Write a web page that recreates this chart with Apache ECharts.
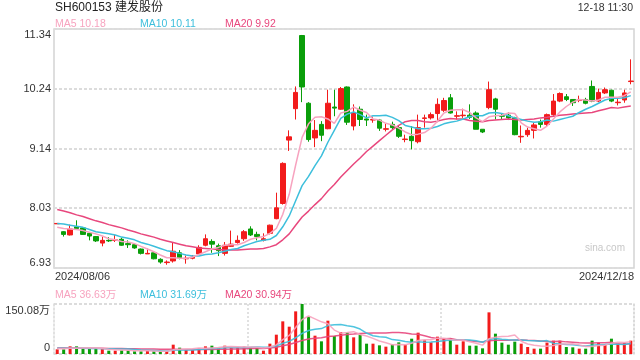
<!DOCTYPE html>
<html><head><meta charset="utf-8">
<script src="https://cdn.jsdelivr.net/npm/echarts@6/dist/echarts.min.js"></script>
<style>html,body{margin:0;padding:0;background:#fff}#c{width:640px;height:360px}</style>
</head><body><div id="c"></div>
<script>
const title = 'SH600153 建发股份';
const timeText = '12-18 11:30';
const dates = ['08/06','08/07','08/08','08/09','08/12','08/13','08/14','08/15','08/16','08/19','08/20','08/21','08/22','08/23','08/26','08/27','08/28','08/29','08/30',
'09/02','09/03','09/04','09/05','09/06','09/09','09/10','09/11','09/12','09/13','09/18','09/19','09/20','09/23','09/24','09/25','09/26','09/27','09/30',
'10/08','10/09','10/10','10/11','10/14','10/15','10/16','10/17','10/18','10/21','10/22','10/23','10/24','10/25','10/28','10/29','10/30','10/31',
'11/01','11/04','11/05','11/06','11/07','11/08','11/11','11/12','11/13','11/14','11/15','11/18','11/19','11/20','11/21','11/22','11/25','11/26','11/27','11/28','11/29',
'12/02','12/03','12/04','12/05','12/06','12/09','12/10','12/11','12/12','12/13','12/16','12/17','12/18'];
const opens = [7.745,7.60,7.54,7.69,7.67,7.57,7.51,7.39,7.44,7.44,7.46,7.38,7.36,7.28,7.19,7.21,7.09,7.03,7.06,7.21,
7.10,7.11,7.19,7.35,7.42,7.34,7.20,7.33,7.40,7.47,7.65,7.55,7.44,7.57,7.84,8.12,9.29,9.87,11.22,9.97,
9.33,9.58,9.50,9.90,9.86,10.27,9.55,9.86,9.68,9.66,9.66,9.49,9.58,9.52,9.30,9.36,9.26,9.69,9.70,9.78,
9.84,10.07,9.73,9.74,9.75,9.79,9.49,9.89,10.05,9.74,9.75,9.70,9.35,9.39,9.47,9.63,9.58,9.76,10.01,10.09,
10.04,10.02,10.04,10.28,10.01,10.16,10.21,9.98,10.03,10.37];
const closes = [7.752,7.55,7.65,7.66,7.55,7.52,7.43,7.44,7.43,7.45,7.35,7.36,7.30,7.20,7.20,7.10,7.04,7.04,7.24,7.12,
7.11,7.13,7.31,7.47,7.37,7.25,7.35,7.37,7.44,7.60,7.54,7.51,7.47,7.72,8.04,8.86,9.35,10.17,10.27,9.30,
9.47,9.38,9.97,9.88,10.24,9.62,9.79,9.67,9.66,9.67,9.51,9.50,9.52,9.36,9.31,9.28,9.52,9.70,9.76,9.95,
10.02,9.79,9.74,9.75,9.71,9.49,9.44,10.22,9.86,9.73,9.70,9.39,9.36,9.47,9.57,9.58,9.76,10.01,10.15,10.04,
9.98,10.03,9.97,10.01,10.17,10.22,10.01,9.99,10.16,10.38];
const lows = [7.745,7.51,7.53,7.66,7.54,7.44,7.41,7.33,7.41,7.41,7.34,7.30,7.285,7.18,7.19,7.09,7.01,6.99,7.03,7.09,
7.01,7.09,7.18,7.33,7.21,7.15,7.16,7.32,7.38,7.43,7.52,7.44,7.42,7.55,7.83,8.10,9.09,9.67,9.99,9.26,
9.16,9.27,9.49,9.73,9.85,9.57,9.47,9.55,9.55,9.61,9.46,9.45,9.49,9.33,9.25,9.12,9.23,9.52,9.67,9.62,
9.81,9.78,9.67,9.70,9.68,9.49,9.42,9.86,9.67,9.67,9.66,9.38,9.24,9.35,9.32,9.52,9.55,9.74,9.99,10.01,
9.92,9.99,9.95,9.99,9.99,10.14,9.99,9.93,9.98,10.32];
const highs = [7.755,7.61,7.73,7.81,7.68,7.59,7.52,7.51,7.50,7.54,7.49,7.44,7.37,7.29,7.29,7.24,7.11,7.07,7.40,7.26,
7.16,7.17,7.35,7.55,7.46,7.38,7.41,7.62,7.53,7.63,7.70,7.60,7.57,7.73,8.32,8.88,9.47,10.28,11.23,9.99,
9.66,9.64,10.22,10.22,10.27,10.28,9.95,9.91,9.76,9.72,9.68,9.59,9.63,9.55,9.39,9.55,9.76,9.76,9.80,10.06,
10.07,10.14,9.82,9.87,9.95,9.82,9.49,10.37,10.07,9.79,9.80,9.72,9.56,9.52,9.61,9.67,9.78,10.14,10.17,10.14,
10.04,10.11,10.07,10.39,10.24,10.26,10.22,10.05,10.22,10.78];
const ma5 = [7.68,7.66,7.65,7.64,7.62,7.59,7.56,7.52,7.47,7.45,7.42,7.41,7.38,7.33,7.28,7.23,7.17,7.12,7.12,7.11,
7.11,7.13,7.18,7.23,7.28,7.31,7.35,7.36,7.36,7.40,7.46,7.49,7.51,7.57,7.66,7.92,8.29,8.83,9.34,9.59,
9.71,9.72,9.68,9.60,9.79,9.82,9.90,9.84,9.80,9.68,9.66,9.60,9.57,9.51,9.44,9.39,9.40,9.43,9.51,9.64,
9.79,9.84,9.85,9.85,9.80,9.70,9.63,9.72,9.74,9.75,9.79,9.78,9.61,9.53,9.50,9.47,9.55,9.68,9.81,9.91,
9.99,10.04,10.03,10.01,10.03,10.08,10.08,10.08,10.11,10.18];
const ma10 = [7.75,7.74,7.72,7.70,7.68,7.64,7.60,7.58,7.56,7.54,7.50,7.48,7.45,7.40,7.37,7.33,7.29,7.25,7.23,7.20,
7.17,7.15,7.15,7.18,7.19,7.21,7.24,7.27,7.29,7.34,7.38,7.42,7.44,7.46,7.53,7.69,7.89,8.17,8.45,8.62,
8.82,9.00,9.25,9.47,9.69,9.77,9.81,9.76,9.70,9.74,9.74,9.75,9.71,9.65,9.56,9.53,9.50,9.50,9.51,9.54,
9.59,9.62,9.64,9.68,9.72,9.74,9.74,9.79,9.80,9.78,9.74,9.70,9.67,9.64,9.62,9.63,9.66,9.64,9.67,9.70,
9.73,9.80,9.86,9.91,9.97,10.03,10.06,10.06,10.07,10.11];
const ma20 = [8.01,7.98,7.95,7.91,7.88,7.84,7.80,7.77,7.73,7.70,7.67,7.63,7.60,7.56,7.53,7.50,7.46,7.43,7.40,7.37,
7.34,7.32,7.30,7.29,7.28,7.27,7.26,7.26,7.26,7.27,7.28,7.28,7.29,7.32,7.36,7.45,7.56,7.72,7.87,7.98,
8.10,8.21,8.35,8.47,8.61,8.73,8.85,8.96,9.08,9.18,9.28,9.38,9.48,9.56,9.63,9.65,9.65,9.63,9.62,9.64,
9.67,9.69,9.68,9.68,9.65,9.64,9.63,9.65,9.66,9.67,9.68,9.67,9.66,9.67,9.68,9.70,9.71,9.73,9.75,9.76,
9.77,9.78,9.79,9.80,9.83,9.86,9.89,9.88,9.90,9.92];
const volumes = [14,14,23,23,15,15,15,15,10,10,11,11,8,8,10,8,8,8,28,19,
13,12,18,23,25,18,25,20,20,22,19,19,10,31,58,98,82,128,150.08,112,
55,38,100,54,66,65,50,58,31,31,26,22,29,35,28,46,64,41,35,52,
45,46,28,38,25,25,17,125,61,34,28,37,31,21,16,16,34,40,40,21,
20,16,16,40,34,27,46,31,34,40];
const vma5 = [16,16,17,17,17.8,18,18.2,16.6,14,13,12.2,11.4,10,9.6,9.6,9,8.4,8.4,12.4,14.2,
15.2,16,18,17,18.2,19.2,21.8,22.2,21.6,21,21.2,20,18,20.2,27.4,43.2,55.8,79.4,103.2,114,
105.4,96.6,91,71.8,62.6,64.6,67,58.6,54,47,39.2,33.6,27.8,28.6,28,32,40.4,42.8,42.8,47.6,
47.4,43.8,41.2,41.8,36.4,32.4,26.6,46,50.6,52.4,53,57,38.2,30.2,26.6,24.2,23.6,25.4,29.2,30.2,
31,27.4,22.6,22.6,25.2,26.6,32.6,35.6,34.4,36.63];
const vma10 = [17,17,17,17,17,16.5,16.5,16,16,15.4,15.1,14.8,13.3,11.8,11.3,10.6,9.9,9.2,11,11.9,
12.1,12.2,13.2,14.7,16.2,17.2,18.9,20.1,19.3,19.6,20.2,20.9,20.1,20.9,24.2,32.2,37.9,48.7,61.7,70.7,
74.3,76.2,85.2,87.5,88.3,85,81.8,74.8,62.9,54.8,51.9,50.3,43.2,41.3,37.5,35.6,37,35.3,35.7,37.8,
39.7,42.1,42,42.3,42,39.9,35.2,43.6,46.2,44.4,42.7,41.8,42.1,40.4,39.5,38.6,40.3,31.8,29.7,28.4,
27.6,25.5,24,25.9,27.7,28.8,30,29.1,28.5,31.69];
const vma20 = [18,18,18,17.8,17.6,17.4,17.2,17,16.8,16.5,16.2,15.9,15.6,15.3,15,14.7,14.3,14,13.9,13.65,
13.6,13.5,13.25,13.25,13.75,13.9,14.4,14.65,15.15,15.75,16.15,16.55,16.65,17.8,20.2,24.7,28.4,34.4,40.5,45.15,
47.25,48.55,52.65,54.2,56.25,58.6,59.85,61.75,62.3,62.75,63.1,63.25,64.2,64.4,62.9,60.3,59.4,55.05,49.3,46.3,
45.8,46.2,42.6,41.8,39.75,37.75,36.1,39.45,40.95,41.1,41.2,41.95,42.05,41.35,40.75,39.25,37.75,37.7,37.95,36.4,
35.15,33.65,33.05,33.15,33.6,33.7,35.15,30.45,29.1,30.94];
const yTicks = ['6.93','8.03','9.14','10.24','11.34'];
const volTicks = ['0','150.08万'];

const cats = dates.map(d => '2024/' + d);
const RED = '#f21b1b', GREEN = '#0a9e0a';
const C5 = '#f7a3bf', C10 = '#3dbfdc', C20 = '#e8477d';
const FONT = '"Liberation Sans", Arial, "Noto Sans CJK SC", sans-serif';
const yMin = parseFloat(yTicks[0]), yMax = parseFloat(yTicks[yTicks.length-1]);
const yStep = (yMax - yMin) / (yTicks.length - 1);
const vMax = parseFloat(volTicks[1]);
const dotted = {color:'#dcdcdc', width:2, type:[3,2]};
const last = a => a[a.length-1];

const chart = echarts.init(document.getElementById('c'), null, {renderer:'canvas'});
const txt = (text, color, size) => ({text, fill:color, font: size + 'px ' + FONT});
chart.setOption({
  animation:false,
  backgroundColor:'#fff',
  textStyle:{fontFamily:FONT},
  grid:[
    {left:54, right:6, top:29, height:239, show:true, borderColor:'#d4d4d4', borderWidth:1.5},
    {left:54, right:6, top:304, height:50, show:false}
  ],
  xAxis:[
    {type:'category', gridIndex:0, data:cats, boundaryGap:true, axisLine:{show:false}, axisTick:{show:false}, axisLabel:{show:false}, splitLine:{show:false}},
    {type:'category', gridIndex:1, data:cats, boundaryGap:true, axisLine:{show:false}, axisTick:{show:false}, axisLabel:{show:false},
      splitLine:{show:true, interval:(i)=> i===30 || i===60, lineStyle:{color:'#d8d8d8', width:1.5, type:[2,2]}}}
  ],
  yAxis:[
    {type:'value', gridIndex:0, min:yMin, max:yMax, interval:yStep, position:'left',
      axisLine:{show:false}, axisTick:{show:false}, splitLine:{show:true, lineStyle:dotted},
      axisLabel:{margin:3, color:'#333', fontSize:11, fontFamily:FONT,
        formatter:(v)=>{const i=Math.round((v-yMin)/yStep); const t=yTicks[i]; if(i===0) return '{b|'+t+'}'; if(i===yTicks.length-1) return '{t|'+t+'}'; return '{m|'+t+'}';},
        rich:{t:{padding:[11,0,0,0], fontSize:11, color:'#333', fontFamily:FONT}, b:{padding:[0,0,11,0], fontSize:11, color:'#333', fontFamily:FONT}, m:{fontSize:11, color:'#333', fontFamily:FONT}}}},
    {type:'value', gridIndex:1, min:0, max:vMax, interval:vMax, position:'left',
      axisLine:{show:true, lineStyle:{color:'#d8d8d8', width:1.5, type:[2,2]}}, axisTick:{show:false},
      splitLine:{show:true, lineStyle:dotted},
      axisLabel:{margin:4, color:'#333', fontSize:11, fontFamily:FONT,
        formatter:(v)=> v===0 ? '{b|'+volTicks[0]+'}' : '{t|'+volTicks[1]+'}',
        rich:{t:{padding:[13,0,0,0], fontSize:11, color:'#333', fontFamily:FONT}, b:{padding:[0,0,12,0], fontSize:11, color:'#333', fontFamily:FONT}}}},
    {type:'value', gridIndex:1, min:0, max:vMax, interval:vMax, position:'right',
      axisLine:{show:true, lineStyle:{color:'#d8d8d8', width:1.5, type:[2,2]}}, axisTick:{show:false}, axisLabel:{show:false}, splitLine:{show:false}}
  ],
  series:[
    {type:'candlestick', xAxisIndex:0, yAxisIndex:0, barWidth:5,
      data: opens.map((o,i)=>[o, closes[i], lows[i], highs[i]]),
      itemStyle:{color:RED, color0:GREEN, borderColor:RED, borderColor0:GREEN, borderWidth:1}},
    {type:'line', xAxisIndex:0, yAxisIndex:0, data:ma20, showSymbol:false, symbol:'none', lineStyle:{color:C20, width:1.5}},
    {type:'line', xAxisIndex:0, yAxisIndex:0, data:ma10, showSymbol:false, symbol:'none', lineStyle:{color:C10, width:1.5}},
    {type:'line', xAxisIndex:0, yAxisIndex:0, data:ma5, showSymbol:false, symbol:'none', lineStyle:{color:C5, width:1.5}},
    {type:'bar', xAxisIndex:1, yAxisIndex:1, barWidth:3,
      data: volumes.map((v,i)=>({value:v, itemStyle:{color: closes[i] >= opens[i] ? RED : GREEN}}))},
    {type:'line', xAxisIndex:1, yAxisIndex:1, data:vma20, showSymbol:false, symbol:'none', lineStyle:{color:C20, width:1.5, opacity:0.9}},
    {type:'line', xAxisIndex:1, yAxisIndex:1, data:vma10, showSymbol:false, symbol:'none', lineStyle:{color:C10, width:1.5, opacity:0.9}},
    {type:'line', xAxisIndex:1, yAxisIndex:1, data:vma5, showSymbol:false, symbol:'none', lineStyle:{color:C5, width:1.5, opacity:0.9}}
  ],
  graphic:[
    {type:'text', left:55, top:2, style:txt(title, '#222', 12)},
    {type:'text', right:7, top:3, style:txt(timeText, '#333', 10.5)},
    {type:'text', left:55, top:19, style:txt('MA5 ' + last(ma5).toFixed(2), C5, 10.5)},
    {type:'text', left:140, top:19, style:txt('MA10 ' + last(ma10).toFixed(2), C10, 10.5)},
    {type:'text', left:225, top:19, style:txt('MA20 ' + last(ma20).toFixed(2), C20, 10.5)},
    {type:'text', left:55, top:271, style:txt(cats[0], '#333', 11)},
    {type:'text', right:6, top:271, style:txt(last(cats), '#333', 11)},
    {type:'text', left:55, top:290, style:txt('MA5 ' + last(vma5).toFixed(2) + '万', C5, 10.5)},
    {type:'text', left:140, top:290, style:txt('MA10 ' + last(vma10).toFixed(2) + '万', C10, 10.5)},
    {type:'text', left:225, top:290, style:txt('MA20 ' + last(vma20).toFixed(2) + '万', C20, 10.5)},
    {type:'text', left:585, top:243, style:txt('sina.com', '#c8c8c8', 10)}
  ]
});
</script></body></html>
